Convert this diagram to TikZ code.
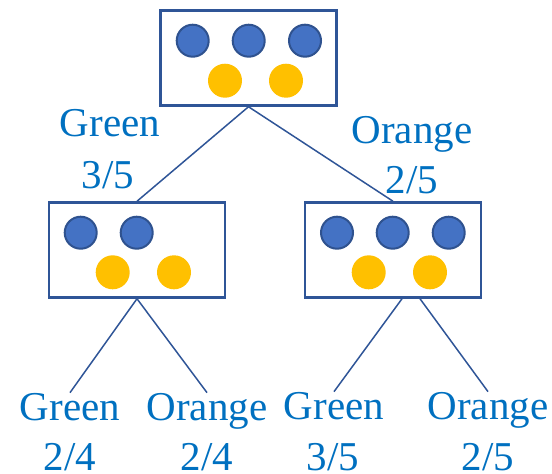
\documentclass[tikz,border=0pt]{standalone}
\usepackage{fontspec}
\setmainfont{Liberation Serif}
\newfontfamily\labelfont{Liberation Serif}
\definecolor{boxline}{HTML}{2F5597}
\definecolor{ballblue}{HTML}{4472C4}
\definecolor{ballrim}{HTML}{2F528F}
\definecolor{ballorange}{HTML}{FFC000}
\definecolor{labelblue}{HTML}{0070C0}
\tikzset{
  urn/.style={draw=boxline, line width=2.5pt, fill=white, minimum width=176pt, minimum height=95pt, inner sep=0pt},
  bball/.style={circle, draw=ballrim, line width=2pt, fill=ballblue, minimum size=32pt, inner sep=0pt},
  oball/.style={circle, fill=ballorange, minimum size=34pt, inner sep=0pt},
  branch/.style={draw=boxline, line width=1.5pt},
  lbl/.style={text=labelblue, font=\labelfont\fontsize{41}{41}\selectfont, inner sep=0pt, anchor=base}
}
\begin{document}
\begin{tikzpicture}[x=1pt, y=-1pt]
\useasboundingbox (0,0) rectangle (552,474);

% the three urns
\node[urn] (top) at (248.5,58) {};
\node[urn] (lbox) at (137,250) {};
\node[urn] (rbox) at (393,250) {};

% branch labels: colour and probability
\node[lbl] (g1) at (110,136) {Green};
\node[lbl] (g1p) at (108,188) {3/5};
\node[lbl] (o1) at (412,143) {Orange};
\node[lbl] (o1p) at (412,193) {2/5};

\node[lbl] (g2) at (70,420) {Green};
\node[lbl] (g2p) at (70,470) {2/4};
\node[lbl] (o2) at (207,420) {Orange};
\node[lbl] (o2p) at (207,470) {2/4};

\node[lbl] (g3) at (334,419) {Green};
\node[lbl] (g3p) at (333,470) {3/5};
\node[lbl] (o3) at (488,419) {Orange};
\node[lbl] (o3p) at (488,470) {2/5};

% connectors
\draw[branch] (top.south) -- (lbox.north);
\draw[branch] (top.south) -- (rbox.north);
\draw[branch] (lbox.south) -- (g2.north);
\draw[branch] (lbox.south) -- (o2.north);
\draw[branch] ([xshift=9pt]rbox.south) -- (g3.north);
\draw[branch] ([xshift=27pt]rbox.south) -- (o3.north);

% balls in the top urn
\node[bball] (tb1) at (192.7,40.7) {};
\node[bball] (tb2) at (248.7,40.7) {};
\node[bball] (tb3) at (305,40.7) {};
\node[oball] (to1) at (225,80.7) {};
\node[oball] (to2) at (286,80.7) {};

% balls in the left urn
\node[bball] (lb1) at (80.7,232.7) {};
\node[bball] (lb2) at (136.7,232.7) {};
\node[oball] (lo1) at (112.7,272.3) {};
\node[oball] (lo2) at (174,272.3) {};

% balls in the right urn
\node[bball] (rb1) at (337,232.7) {};
\node[bball] (rb2) at (392.7,232.7) {};
\node[bball] (rb3) at (448.7,232.7) {};
\node[oball] (ro1) at (368.7,272.3) {};
\node[oball] (ro2) at (430,272.3) {};
\end{tikzpicture}
\end{document}
